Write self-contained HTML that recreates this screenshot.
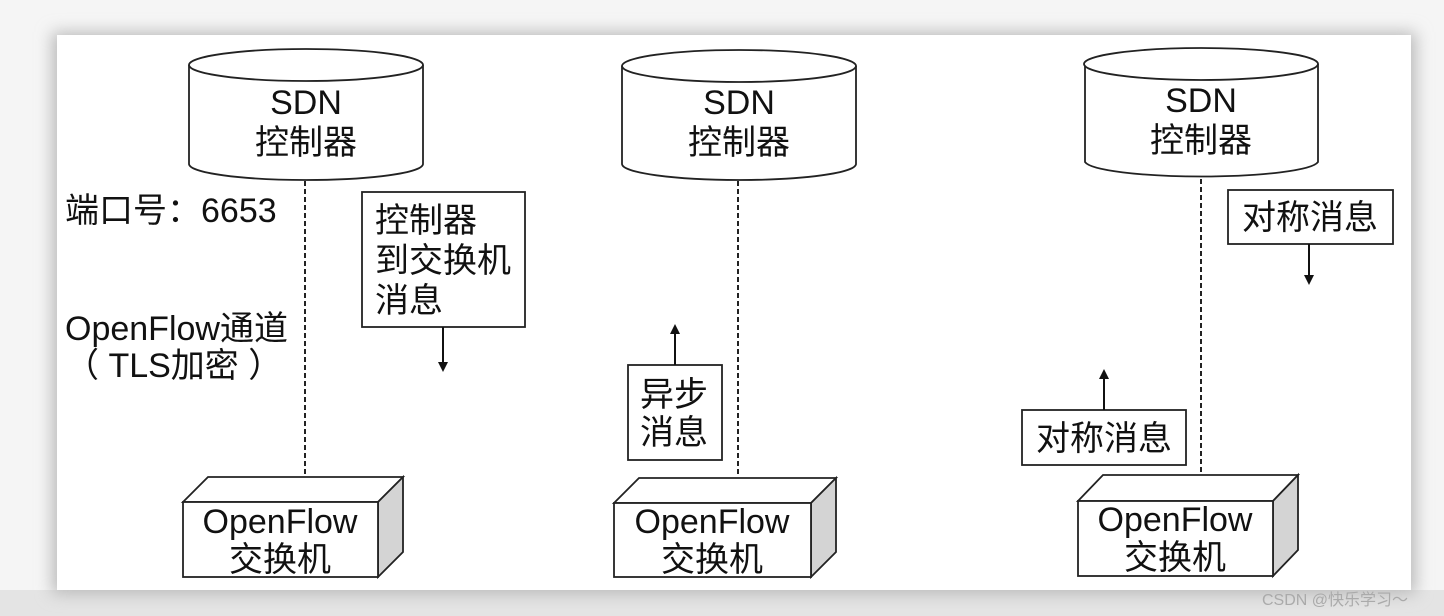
<!DOCTYPE html>
<html><head><meta charset="utf-8"><style>
html,body{margin:0;padding:0;width:1444px;height:616px;overflow:hidden;background:#f3f3f3;}
svg{display:block}
text{font-family:"Liberation Sans","Noto Sans CJK SC",sans-serif;fill:#111;}
</style></head><body>
<svg width="1444" height="616" viewBox="0 0 1444 616" xmlns="http://www.w3.org/2000/svg">
<defs>
<filter id="sh" x="-5%" y="-5%" width="110%" height="115%"><feGaussianBlur stdDeviation="8"/></filter>
<marker id="ah" markerWidth="10" markerHeight="10" refX="5" refY="5" orient="auto" markerUnits="userSpaceOnUse"><path d="M0,0 L10,5 L0,10 z" fill="#111"/></marker>
</defs>
<rect x="0" y="0" width="1444" height="616" fill="#f5f5f5"/>
<rect x="0" y="590" width="1444" height="26" fill="#e4e4e4"/>
<rect x="52" y="32" width="1364" height="562" fill="#bbb" filter="url(#sh)"/>
<rect x="57" y="35" width="1354" height="555" fill="#fff"/>

<g stroke="#222" stroke-width="1.8" fill="#fff">
<path d="M189,65 L189,164 A117,16 0 0 0 423,164 L423,65"/>
<ellipse cx="306" cy="65" rx="117" ry="16"/>
<path d="M622,66 L622,164 A117,16 0 0 0 856,164 L856,66"/>
<ellipse cx="739" cy="66" rx="117" ry="16"/>
<path d="M1085,64 L1085,162 A117,16 0 0 0 1318,162 L1318,64"/>
<ellipse cx="1201" cy="64" rx="117" ry="16"/>
</g>
<g stroke="#222" stroke-width="2" stroke-dasharray="5,3">
<line x1="305" y1="181" x2="305" y2="477"/>
<line x1="738" y1="181" x2="738" y2="477"/>
<line x1="1201" y1="179" x2="1201" y2="475"/>
</g>
<g stroke="#222" stroke-width="1.8">
<path d="M183,502 L208,477 L403,477 L378,502 z" fill="#fff"/>
<path d="M378,502 L403,477 L403,552 L378,577 z" fill="#d4d4d4"/>
<rect x="183" y="502" width="195" height="75" fill="#fff"/>
<path d="M614,503 L639,478 L836,478 L811,503 z" fill="#fff"/>
<path d="M811,503 L836,478 L836,552 L811,577 z" fill="#d4d4d4"/>
<rect x="614" y="503" width="197" height="74" fill="#fff"/>
<path d="M1078,501 L1103,475 L1298,475 L1273,501 z" fill="#fff"/>
<path d="M1273,501 L1298,475 L1298,550 L1273,576 z" fill="#d4d4d4"/>
<rect x="1078" y="501" width="195" height="75" fill="#fff"/>
<rect x="362" y="192" width="163" height="135" fill="#fff"/>
<rect x="628" y="365" width="94" height="95" fill="#fff"/>
<rect x="1228" y="190" width="165" height="54" fill="#fff"/>
<rect x="1022" y="410" width="164" height="55" fill="#fff"/>
</g>
<g stroke="#111" stroke-width="2">
<line x1="443" y1="327" x2="443" y2="367" marker-end="url(#ah)"/>
<line x1="675" y1="365" x2="675" y2="329" marker-end="url(#ah)"/>
<line x1="1309" y1="244" x2="1309" y2="280" marker-end="url(#ah)"/>
<line x1="1104" y1="410" x2="1104" y2="374" marker-end="url(#ah)"/>
</g>
<g font-size="34" text-anchor="middle">
<text x="306" y="114">SDN</text><text x="306" y="154">控制器</text>
<text x="739" y="114">SDN</text><text x="739" y="154">控制器</text>
<text x="1201" y="112">SDN</text><text x="1201" y="152">控制器</text>
<text x="280" y="533">OpenFlow</text><text x="280" y="571">交换机</text>
<text x="712" y="533">OpenFlow</text><text x="712" y="571">交换机</text>
<text x="1175" y="531">OpenFlow</text><text x="1175" y="569">交换机</text>
</g>
<g font-size="34">
<text x="65" y="222">端口号：6653</text>
<text x="65" y="340">OpenFlow通道</text>
<text x="65" y="377">（ TLS加密 ）</text>
<text x="375" y="232">控制器</text>
<text x="375" y="272">到交换机</text>
<text x="375" y="312">消息</text>
<text x="640" y="406">异步</text>
<text x="640" y="444">消息</text>
<text x="1242" y="229">对称消息</text>
<text x="1036" y="450">对称消息</text>
</g>
<text x="1262" y="605" font-size="16" style="fill:#aaa">CSDN @快乐学习～</text>
</svg>
</body></html>
